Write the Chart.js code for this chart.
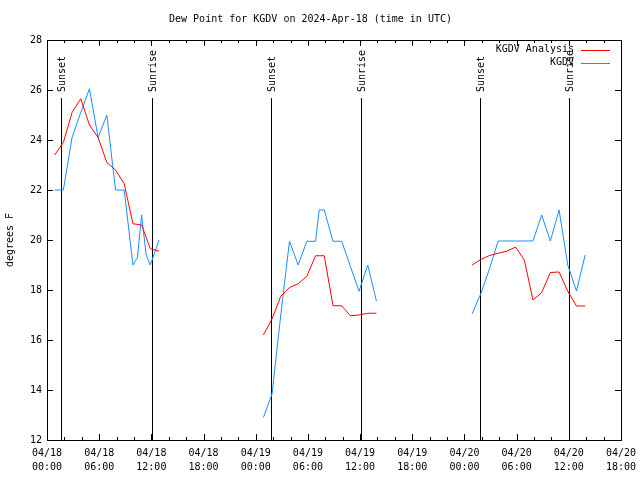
<!DOCTYPE html>
<html>
<head>
<meta charset="utf-8">
<script src="https://cdn.jsdelivr.net/npm/chart.js@4/dist/chart.umd.min.js"></script>
<style>
  html, body { margin: 0; padding: 0; background: #fff; }
  #c { display: block; }
</style>
</head>
<body>
<canvas id="c" width="640" height="480"></canvas>
<script>
// Dew point KGDV, Zeitachse in Stunden ab 2024-04-18 00:00 UTC. null = Datenlücke.
const obsStunden = [0.88, 1.88, 2.88, 3.88, 4.88, 5.88, 6.88, 7.88, 8.88, 9.88, 10.4, 10.88, 11.4, 11.88, 12.88, 18,
  24.88, 25.88, 26.88, 27.88, 28.88, 29.88, 30.88, 31.3, 31.88, 32.88, 33.88, 34.88, 35.88, 36.88, 37.88, 44,
  48.88, 49.88, 50.88, 51.88, 52.88, 53.88, 54.88, 55.88, 56.88, 57.88, 58.88, 59.88, 60.88, 61.88];
const obsTaupunkt = [22, 22, 24.1, 25.1, 26.05, 24.1, 25, 22, 22, 19, 19.3, 21, 19.4, 19, 20, null,
  12.9, 13.85, 17, 19.95, 19, 19.95, 19.95, 21.2, 21.2, 19.95, 19.95, 18.95, 17.95, 19, 17.55, null,
  17.05, 17.85, 18.85, 19.96, 19.96, 19.96, 19.96, 19.96, 21, 19.96, 21.2, 19, 17.96, 19.4];

const anaStunden = [0.88, 1.88, 2.88, 3.88, 4.88, 5.88, 6.88, 7.88, 8.88, 9.88, 10.88, 11.88, 12.88, 18,
  24.88, 25.88, 26.88, 27.88, 28.88, 29.88, 30.88, 31.88, 32.88, 33.88, 34.88, 35.88, 36.88, 37.88, 44,
  48.88, 49.88, 50.88, 51.88, 52.88, 53.88, 54.88, 55.88, 56.88, 57.88, 58.88, 59.88, 60.88, 61.88];
const anaTaupunkt = [23.4, 23.9, 25.1, 25.65, 24.6, 24.1, 23.1, 22.8, 22.25, 20.65, 20.6, 19.65, 19.55, null,
  16.2, 16.85, 17.75, 18.1, 18.25, 18.55, 19.37, 19.37, 17.37, 17.37, 16.97, 17.0, 17.07, 17.07, null,
  19.0, 19.22, 19.38, 19.47, 19.55, 19.72, 19.2, 17.6, 17.9, 18.7, 18.72, 17.95, 17.36, 17.36];

const sonnenZeiten = [1.64, 12.1, 25.8, 36.15, 49.82, 60.06];
const sonnenText = ['Sunset', 'Sunrise', 'Sunset', 'Sunrise', 'Sunset', 'Sunrise'];

const xTickLabels = [
  ['04/18', '00:00'], ['04/18', '06:00'], ['04/18', '12:00'], ['04/18', '18:00'],
  ['04/19', '00:00'], ['04/19', '06:00'], ['04/19', '12:00'], ['04/19', '18:00'],
  ['04/20', '00:00'], ['04/20', '06:00'], ['04/20', '12:00'], ['04/20', '18:00'],
];

const FONT = 'DejaVu Sans Mono';
const schrift = { family: FONT, size: 10, weight: 'normal', lineHeight: 1.4 };
const punkte = (xs, ys) => xs.map((x, i) => ({ x, y: ys[i] }));

// Rahmen, Innen-Ticks (gespiegelt), Sonnenlinien, Legende im gnuplot-Stil
const gnuplotDeko = {
  id: 'gnuplotDeko',
  beforeDatasetsDraw(chart) {
    const { ctx, chartArea: a, scales: { x } } = chart;
    ctx.save();
    ctx.strokeStyle = '#000';
    ctx.lineWidth = 1;
    sonnenZeiten.forEach((t) => {
      const px = Math.round(x.getPixelForValue(t)) + 0.5;
      ctx.beginPath();
      ctx.moveTo(px, a.top + 58);
      ctx.lineTo(px, a.bottom);
      ctx.stroke();
    });
    ctx.restore();
  },
  afterDatasetsDraw(chart) {
    const { ctx, chartArea: a, scales: { x, y } } = chart;
    ctx.save();
    ctx.strokeStyle = '#000';
    ctx.lineWidth = 1;
    ctx.strokeRect(Math.round(a.left) + 0.5, Math.round(a.top) + 0.5, Math.round(a.right - a.left), Math.round(a.bottom - a.top));
    ctx.beginPath();
    for (let h = 0; h <= 66; h += 2) {
      const px = Math.round(x.getPixelForValue(h)) + 0.5;
      const len = h % 6 === 0 ? 6 : 3;
      ctx.moveTo(px, a.bottom); ctx.lineTo(px, a.bottom - len);
      ctx.moveTo(px, a.top); ctx.lineTo(px, a.top + len);
    }
    for (let v = 12; v <= 28; v += 2) {
      const py = Math.round(y.getPixelForValue(v)) + 0.5;
      ctx.moveTo(a.left, py); ctx.lineTo(a.left + 6, py);
      ctx.moveTo(a.right, py); ctx.lineTo(a.right - 6, py);
    }
    ctx.stroke();

    // Sunrise / Sunset Beschriftung, senkrecht, endet knapp über der Linie
    ctx.fillStyle = '#000';
    ctx.font = `10px "${FONT}"`;
    ctx.textBaseline = 'middle';
    sonnenZeiten.forEach((t, i) => {
      const px = Math.round(x.getPixelForValue(t)) + 1;
      ctx.save();
      ctx.translate(px, a.top + 52);
      ctx.rotate(-Math.PI / 2);
      ctx.textAlign = 'left';
      ctx.fillText(sonnenText[i], 0, 0);
      ctx.restore();
    });

    // Legende oben rechts
    chart.data.datasets.forEach((ds, i) => {
      const ly = a.top + 9.5 + i * 13;
      ctx.fillStyle = '#000';
      ctx.textAlign = 'right';
      ctx.fillText(ds.label, a.right - 47, ly);
      ctx.strokeStyle = ds.borderColor;
      ctx.beginPath();
      ctx.moveTo(a.right - 40, Math.round(ly) + 0.5);
      ctx.lineTo(a.right - 11, Math.round(ly) + 0.5);
      ctx.stroke();
    });
    ctx.restore();
  },
};

new Chart(document.getElementById('c'), {
  type: 'line',
  data: {
    datasets: [
      { label: 'KGDV Analysis', data: punkte(anaStunden, anaTaupunkt), borderColor: '#ff0000', borderWidth: 1, pointRadius: 0, tension: 0, spanGaps: false },
      { label: 'KGDV', data: punkte(obsStunden, obsTaupunkt), borderColor: '#1a8cff', borderWidth: 1, pointRadius: 0, tension: 0, spanGaps: false },
    ],
  },
  options: {
    responsive: false,
    animation: false,
    devicePixelRatio: 1,
    layout: { padding: { left: 0, right: 19, top: 0, bottom: 0 } },
    plugins: {
      legend: { display: false },
      tooltip: { enabled: false },
      title: {
        display: true,
        text: 'Dew Point for KGDV on 2024-Apr-18 (time in UTC)',
        color: '#000',
        font: { family: FONT, size: 10, weight: 'normal', lineHeight: 1.2 },
        padding: { top: 13, bottom: 15 },
      },
    },
    scales: {
      x: {
        type: 'linear', min: 0, max: 66,
        afterFit: (s) => { s.height = 40; s.paddingLeft = 0; s.paddingRight = 0; },
        grid: { display: false, drawTicks: false },
        border: { display: false },
        ticks: {
          stepSize: 6, autoSkip: false, maxRotation: 0, padding: 6,
          color: '#000', font: schrift,
          callback: (v) => xTickLabels[Math.round(v / 6)],
        },
      },
      y: {
        min: 12, max: 28,
        afterFit: (s) => { s.width = 47; },
        grid: { display: false, drawTicks: false },
        border: { display: false },
        ticks: { stepSize: 2, padding: 5, color: '#000', font: schrift },
        title: { display: true, text: 'degrees F', color: '#000', font: schrift, padding: { top: 3, bottom: 0 } },
      },
    },
  },
  plugins: [gnuplotDeko],
});
</script>
</body>
</html>
